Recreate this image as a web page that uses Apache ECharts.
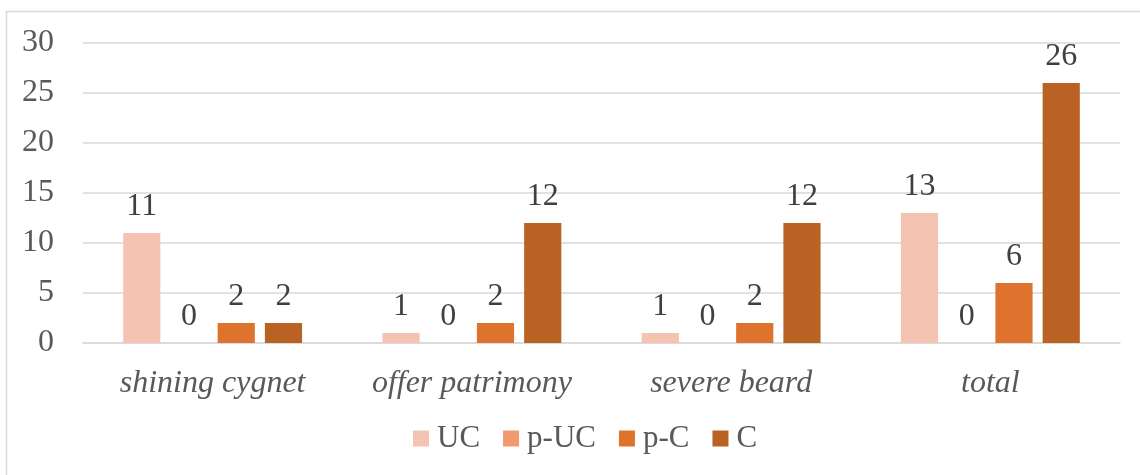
<!DOCTYPE html>
<html><head><meta charset="utf-8">
<script src="https://cdn.jsdelivr.net/npm/echarts@6/dist/echarts.min.js"></script>
<style>html,body{margin:0;padding:0;background:#fff}#c{width:1140px;height:475px}</style>
</head><body><div id="c"></div>
<script>
const categories = ['shining cygnet', 'offer patrimony', 'severe beard', 'total'];
const seriesNames = ['UC', 'p-UC', 'p-C', 'C'];
const UC = [11, 1, 1, 13];
const pUC = [0, 0, 0, 0];
const pC = [2, 2, 2, 6];
const C = [2, 12, 12, 26];
const colors = ['#F5C3B1', '#F1996F', '#DE732E', '#B96224'];
const values = [UC, pUC, pC, C];
const FONT = '"Liberation Serif", "Times New Roman", serif';

const chart = echarts.init(document.getElementById('c'), null, {renderer: 'canvas'});
chart.setOption({
  animation: false,
  backgroundColor: '#fff',
  textStyle: {fontFamily: FONT},
  graphic: [{
    type: 'rect', shape: {x: 6.5, y: 11.5, width: 1200, height: 600},
    style: {fill: 'none', stroke: '#d9d9d9', lineWidth: 1.5}, silent: true, z: -1
  }],
  grid: {left: 83, right: 20, top: 43, bottom: 132},
  legend: {
    left: 413, top: 423, padding: 0, itemWidth: 16, itemHeight: 16, itemGap: 23,
    icon: 'rect',
    textStyle: {fontFamily: FONT, fontSize: 31, color: '#595959', padding: [0, 0, 0, 3]},
    data: seriesNames
  },
  xAxis: {
    type: 'category', data: categories,
    axisLine: {lineStyle: {color: '#d9d9d9', width: 1.5}},
    axisTick: {show: false},
    axisLabel: {interval: 0, hideOverlap: false, fontFamily: FONT, fontSize: 32, fontStyle: 'italic', color: '#595959', margin: 25}
  },
  yAxis: {
    type: 'value', min: 0, max: 30, interval: 5,
    axisLine: {show: false}, axisTick: {show: false},
    splitLine: {lineStyle: {color: '#d9d9d9', width: 1.5}},
    axisLabel: {fontFamily: FONT, fontSize: 32, color: '#595959', margin: 29}
  },
  series: seriesNames.map((n, i) => ({
    name: n, type: 'bar', data: values[i],
    barGap: '27%', barCategoryGap: '31%',
    itemStyle: {color: colors[i]},
    label: {show: true, position: 'top', distance: 10, fontFamily: FONT, fontSize: 32, color: '#404040'}
  }))
});
</script></body></html>
